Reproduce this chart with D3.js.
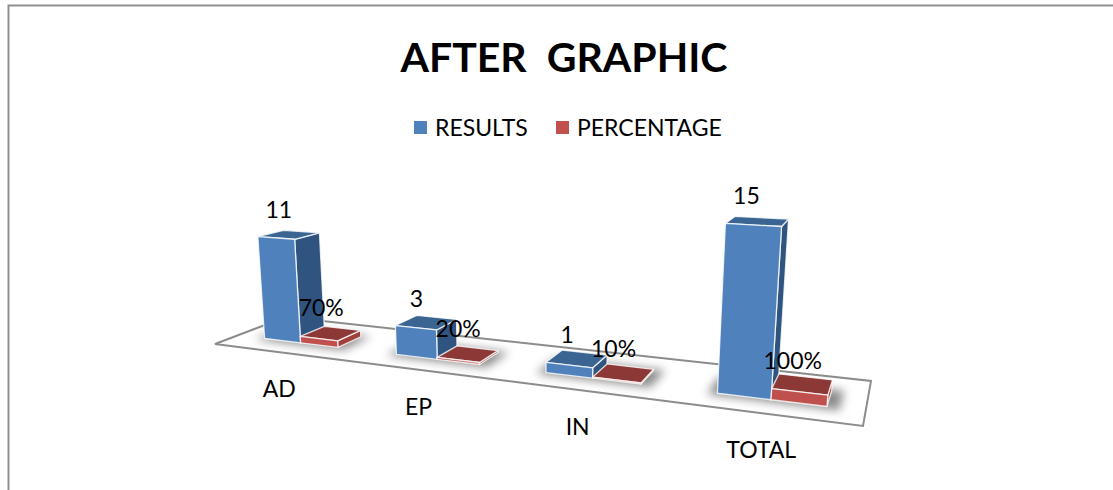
<!DOCTYPE html>
<html><head><meta charset="utf-8">
<script src="https://cdn.jsdelivr.net/npm/d3@7/dist/d3.min.js"></script>
<style>html,body{margin:0;padding:0;background:#fff;overflow:hidden}text{font-family:Lato,"Open Sans",sans-serif;fill:#000;white-space:pre}</style>
</head><body><svg id="c" width="1113" height="490"></svg>
<script>
const categories = ["AD","EP","IN","TOTAL"];
const seriesNames = ["RESULTS","PERCENTAGE"];
const results = [11,3,1,15];
const percentage = [0.7,0.2,0.1,1];
const percentageLabels = ["70%","20%","10%","100%"];
const titleText = "AFTER  GRAPHIC";

const svg = d3.select("#c");
// chart frame
svg.append("path").attr("d","M8.5,490V5.5H1113").attr("fill","none").attr("stroke","#8f8f8f").attr("stroke-width",2);

// perspective camera: floor quad + vertical vanishing point
const q = [[215,344],[863,426],[871,381],[286,317]];
const [x0,y0]=q[0],[x1,y1]=q[1],[x2,y2]=q[2],[x3,y3]=q[3];
const dx1=x1-x2,dx2=x3-x2,sx=x0-x1+x2-x3,dy1=y1-y2,dy2=y3-y2,sy=y0-y1+y2-y3;
const den=dx1*dy2-dx2*dy1;
const g=(sx*dy2-dx2*sy)/den,h=(dx1*sy-sx*dy1)/den;
const a=x1-x0+g*x1,b=x3-x0+h*x3,c=x0,d=y1-y0+g*y1,e=y3-y0+h*y3,f=y0;
const vp=[531,4345];
function proj(u,v,z){
  const W=g*u+h*v+1+z;
  return [(a*u+b*v+c+z*vp[0])/W,(d*u+e*v+f+z*vp[1])/W];
}
const uScale=d3.scaleBand().domain(categories).range([0.001,1.006]);
const sScale=d3.scaleBand().domain(seriesNames).range([0,uScale.bandwidth()]).paddingInner(0).paddingOuter(0.75);
const zScale=d3.scaleLinear().domain([0,15]).range([0,-0.0345]);
const vFront=0.30,vBack=0.66;

// floor
svg.append("path").attr("d",d3.line()([[0,0],[1,0],[1,1],[0,1]].map(p=>proj(p[0],p[1],0)))+"Z")
  .attr("fill","#fff").attr("stroke","#8c8c8c").attr("stroke-width",2);

const defs=svg.append("defs");
defs.append("filter").attr("id","blur").attr("x","-30%").attr("y","-60%").attr("width","160%").attr("height","220%")
  .append("feGaussianBlur").attr("stdDeviation",5);

const colors={RESULTS:{front:"#4f81bd",side:"#2f5480",top:"#3a6592"},PERCENTAGE:{front:"#c0504d",side:"#a03f3c",top:"#8c3836"}};
const bars=[];
categories.forEach((cat,i)=>{
  seriesNames.forEach((s,j)=>{
    const val=(j===0?results:percentage)[i];
    const u0=uScale(cat)+sScale(s),u1=u0+sScale.bandwidth();
    bars.push({cat,i,s,j,val,u0,u1,label:j===0?String(val):percentageLabels[i]});
  });
});
const line=d3.line();
const poly=pts=>line(pts)+"Z";

// shadows
const shadowG=svg.append("g").attr("filter","url(#blur)");
categories.forEach(cat=>{
  const u0=uScale(cat)+sScale("RESULTS")-0.012,u1=uScale(cat)+sScale("PERCENTAGE")+sScale.bandwidth()+0.016;
  shadowG.append("path").attr("d",poly([[u0,vFront-0.05],[u1,vFront-0.05],[u1,vBack+0.03],[u0,vBack+0.03]].map(p=>proj(p[0],p[1],0))))
    .attr("fill","#000").attr("fill-opacity",0.45);
});

// bars
const barG=svg.append("g").selectAll("g").data(bars).join("g").attr("stroke","#fff").attr("stroke-opacity",0.8).attr("stroke-width",1.3).attr("stroke-linejoin","round");
barG.each(function(p){
  const G=d3.select(this),z=zScale(p.val),col=colors[p.s];
  const P=(u,v,zz)=>proj(u,v,zz);
  G.append("path").attr("d",poly([P(p.u1,vFront,0),P(p.u1,vBack,0),P(p.u1,vBack,z),P(p.u1,vFront,z)])).attr("fill",col.side);
  G.append("path").attr("d",poly([P(p.u0,vFront,z),P(p.u1,vFront,z),P(p.u1,vBack,z),P(p.u0,vBack,z)])).attr("fill",col.top);
  G.append("path").attr("d",poly([P(p.u0,vFront,0),P(p.u1,vFront,0),P(p.u1,vFront,z),P(p.u0,vFront,z)])).attr("fill",col.front);
});

// data labels
svg.append("g").selectAll("text").data(bars).join("text")
  .attr("font-size",23).attr("text-anchor","middle").attr("dominant-baseline","central")
  .attr("x",p=>proj(p.u0,vFront,zScale(p.val))[0]+21)
  .attr("y",p=>proj(p.u0,vFront,zScale(p.val))[1]+(p.j===0?-28:-29))
  .text(p=>p.label);

// category labels
svg.append("g").selectAll("text").data(categories).join("text")
  .attr("font-size",23).attr("text-anchor","middle").attr("dominant-baseline","central")
  .attr("x",cat=>proj((categories.indexOf(cat)+0.5)/categories.length,0,0)[0]+1)
  .attr("y",cat=>proj((categories.indexOf(cat)+0.5)/categories.length,0,0)[1]+36)
  .text(cat=>cat);

// title
svg.append("text").attr("x",564).attr("y",72).attr("text-anchor","middle").attr("font-size",41).attr("font-weight",700).text(titleText);

// legend
const legendX=d3.scaleOrdinal().domain(seriesNames).range([414,556]);
const lg=svg.append("g").selectAll("g").data(seriesNames).join("g").attr("transform",s=>`translate(${legendX(s)},0)`);
lg.append("rect").attr("x",0).attr("y",121).attr("width",13).attr("height",13).attr("fill",s=>colors[s].front);
lg.append("text").attr("x",21).attr("y",136).attr("font-size",23).text(s=>s);
</script></body></html>
